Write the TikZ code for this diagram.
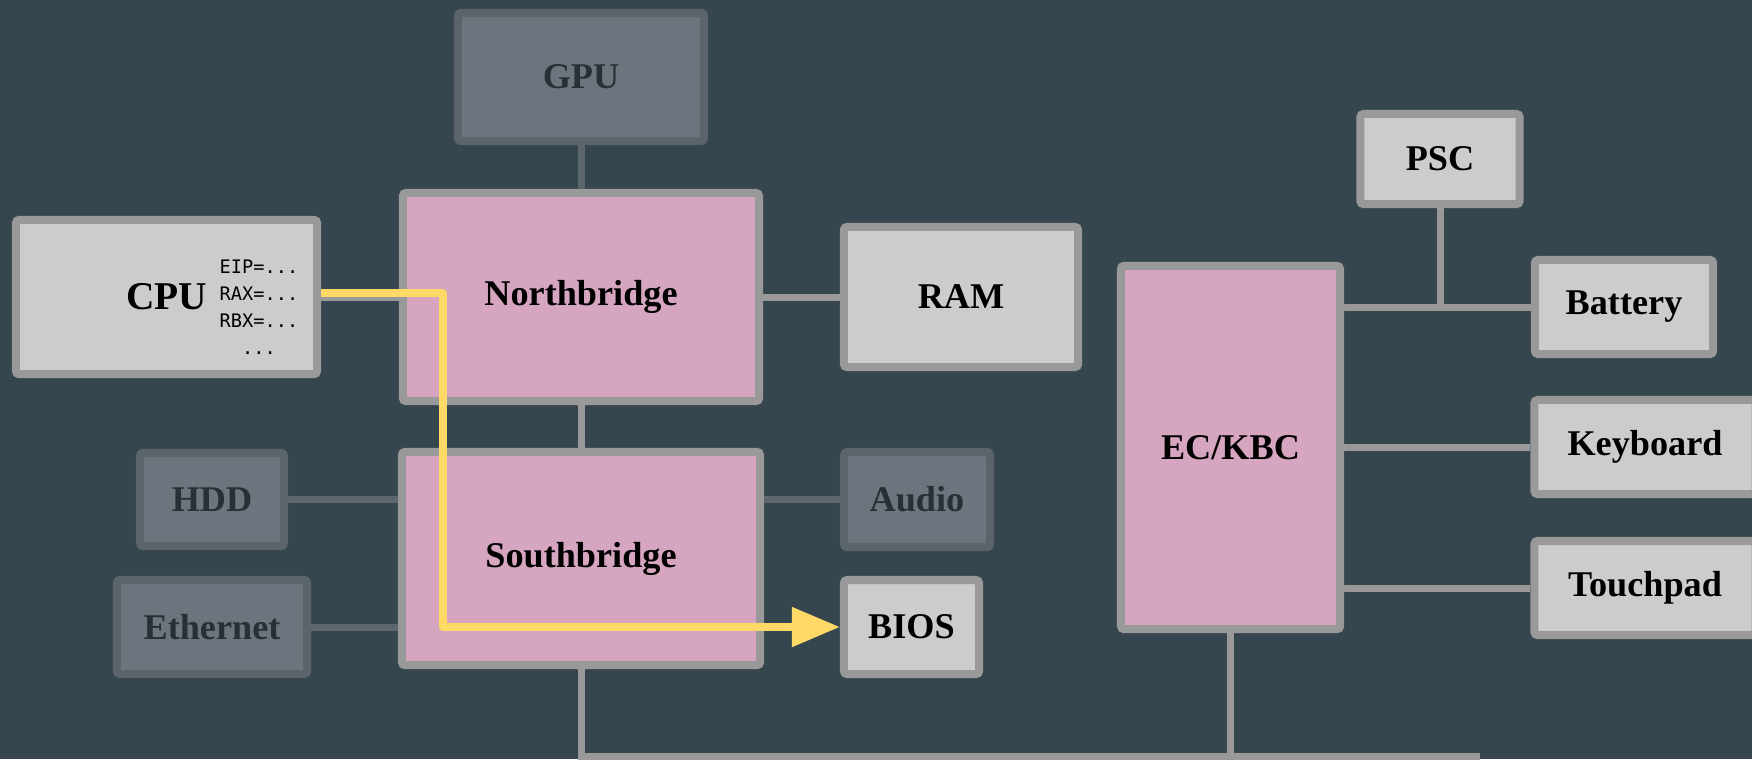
\documentclass[tikz,border=0pt]{standalone}
\usepackage{fontspec}
\setmainfont{Liberation Serif}
\newfontfamily\regfont{DejaVu Sans Mono}
\usetikzlibrary{arrows.meta}
\definecolor{bgc}{RGB}{54,70,79}
\definecolor{lfill}{RGB}{204,204,204}
\definecolor{lbord}{RGB}{153,153,153}
\definecolor{pfill}{RGB}{214,165,191}
\definecolor{dfill}{RGB}{108,117,125}
\definecolor{dbord}{RGB}{92,100,107}
\definecolor{dtext}{RGB}{40,47,55}
\definecolor{dline}{RGB}{95,103,110}
\definecolor{ylw}{RGB}{255,217,102}
\begin{document}
\begin{tikzpicture}[x=0.01cm,y=-0.01cm,
  basebox/.style={line width=0.08cm, rounded corners=0.03cm, inner sep=0pt,
    font=\bfseries\fontsize{10.3}{12}\selectfont},
  lightbox/.style={basebox, draw=lbord, fill=lfill, text=black},
  pinkbox/.style={basebox, draw=lbord, fill=pfill, text=black},
  dimbox/.style={basebox, draw=dbord, fill=dfill, text=dtext},
  link/.style={draw=lbord, line width=0.07cm},
  dimlink/.style={draw=dline, line width=0.07cm},
  flow/.style={draw=ylw, line width=0.08cm, line join=round,
    -{Triangle[length=0.48cm, width=0.38cm]}}
]
\fill[bgc] (0,0) rectangle (1752,759);
\useasboundingbox (0,0) rectangle (1752,759);

% nodes
\node[dimbox, minimum width=2.46cm, minimum height=1.28cm] (gpu) at (581,77) {GPU};
\node[pinkbox, minimum width=3.56cm, minimum height=2.08cm] (nb) at (581,297) {Northbridge};
\node[lightbox, minimum width=3.01cm, minimum height=1.54cm, font=\bfseries\fontsize{11.2}{13}\selectfont] (cpu) at (166.5,297) {CPU};
\node[inner sep=0pt, align=center, font=\regfont\fontsize{5.3}{7.7}\selectfont] (regs) at (259,307) {EIP=...\\RAX=...\\RBX=...\\...};
\node[lightbox, minimum width=2.34cm, minimum height=1.40cm] (ram) at (961,297) {RAM};
\node[dimbox, minimum width=1.44cm, minimum height=0.93cm] (hdd) at (212,499.5) {HDD};
\node[dimbox, minimum width=1.90cm, minimum height=0.94cm] (eth) at (212,627) {Ethernet};
\node[pinkbox, minimum width=3.58cm, minimum height=2.13cm] (sb) at (581,558.5) {Southbridge};
\node[dimbox, minimum width=1.46cm, minimum height=0.95cm] (audio) at (917,499.5) {Audio};
\node[lightbox, minimum width=1.35cm, minimum height=0.94cm] (bios) at (911.5,627) {BIOS};
\node[pinkbox, minimum width=2.19cm, minimum height=3.63cm] (ec) at (1230.5,447.5) {EC/KBC};
\node[lightbox, minimum width=1.59cm, minimum height=0.90cm] (psc) at (1440,159) {PSC};
\node[lightbox, minimum width=1.78cm, minimum height=0.94cm] (bat) at (1624,307) {Battery};
\node[lightbox, minimum width=2.21cm, minimum height=0.94cm] (kbd) at (1645,447) {Keyboard};
\node[lightbox, minimum width=2.21cm, minimum height=0.94cm] (tp) at (1645,588) {Touchpad};

\coordinate (busR) at (1480,756);
\coordinate (turn) at (443,627);

% connectors
\draw[dimlink] (gpu.south) -- (nb.north);
\draw[link] (cpu.east) -- (cpu.east -| nb.west);
\draw[link] (nb.east) -- (nb.east -| ram.west);
\draw[link] (nb.south) -- (sb.north);
\draw[dimlink] (hdd.east) -- (hdd.east -| sb.west);
\draw[dimlink] (eth.east) -- (eth.east -| sb.west);
\draw[dimlink] (audio.west -| sb.east) -- (audio.west);
\draw[link] (sb.south) |- (busR);
\draw[link] (ec.south) -- (ec.south |- busR);
\draw[link] (bat.west -| ec.east) -- (bat.west);
\draw[link] (psc.south) -- (psc.south |- bat.west);
\draw[link] (kbd.west -| ec.east) -- (kbd.west);
\draw[link] (tp.west -| ec.east) -- (tp.west);

% data flow
\draw[flow] ([yshift=0.04cm]cpu.east) -| (turn) -- (bios.west);
\end{tikzpicture}
\end{document}
